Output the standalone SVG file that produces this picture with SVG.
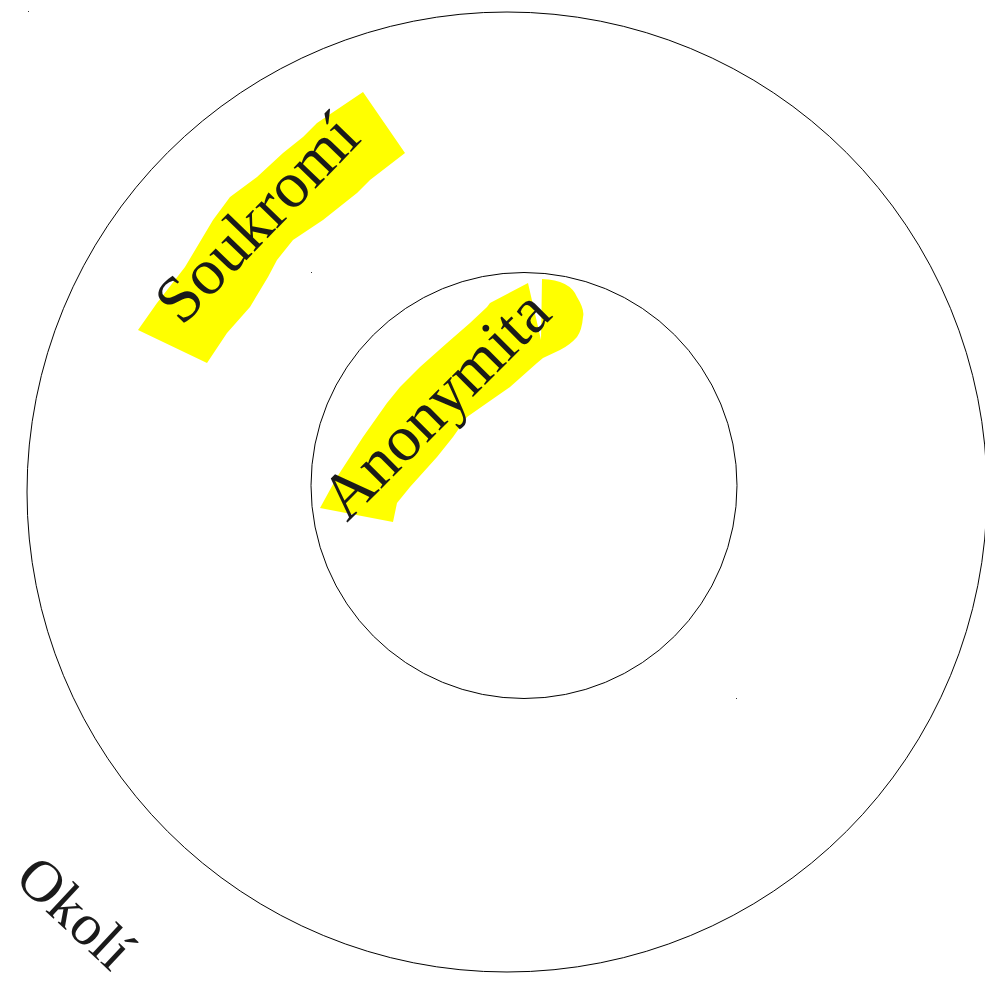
<svg xmlns="http://www.w3.org/2000/svg" width="985" height="982" viewBox="0 0 985 982">
<style>
.ring{fill:none;stroke:#000;stroke-width:1}
.hl{fill:#ffff00;stroke:none}
.lbl{font-family:"Liberation Serif","Times New Roman",serif;fill:#1a1a1a}
.dot{fill:#333}
</style>
<rect width="985" height="982" fill="#fff"/>
<g id="okoli">
<circle class="ring" cx="507" cy="492" r="480"/>
<text class="lbl" font-size="59" transform="translate(13,881) rotate(43)">Okolí</text>
</g>
<g id="soukromi">
<path class="hl" d="M363,92 L405,153 L370,180 L357,193 L323,220 L293,240 L277,260 L268,277 L250,307 L227,333 L207,363 L138,330 L157,303 L185,267 L213,220 L230,197 L257,177 L283,153 L303,137 L317,123 Z"/>
<text class="lbl" font-size="66" transform="translate(182,327) rotate(-46)">Soukromí</text>
</g>
<g id="anonymita">
<circle class="ring" cx="524" cy="485.5" r="213"/>
<path class="hl" d="M528,283 L541,340 L542,279 Q570,280 577,297 Q585,310 583,317 Q582,330 577,337 Q570,345 560,350 L543,358 L537,363 L510,387 L487,403 L467,417 L453,437 L437,457 L410,487 L397,503 L393,522 L320,508 L337,477 L363,437 L387,403 L400,387 L420,367 L447,343 L470,323 L487,307 L490,303 Z"/>
<text class="lbl" font-size="65" transform="translate(347,523) rotate(-45)">Anonymita</text>
</g>
<rect class="dot" x="28" y="11" width="1" height="1"/>
<rect class="dot" x="311" y="272" width="1" height="1"/>
<rect class="dot" x="736" y="698" width="1" height="1"/>
</svg>
